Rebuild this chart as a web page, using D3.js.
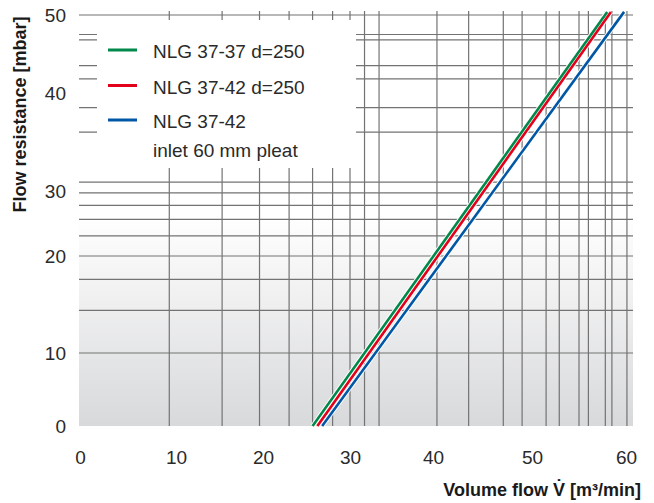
<!DOCTYPE html>
<html>
<head>
<meta charset="utf-8">
<script src="https://cdn.jsdelivr.net/npm/d3@7"></script>
<style>
  html, body { margin: 0; padding: 0; background: #fff; }
  svg { display: block; }
  text { font-family: "Liberation Sans", Arial, sans-serif; }
</style>
</head>
<body>
<svg id="chart" width="654" height="503"></svg>
<script>
// ---- data ----
const xTicks = [0, 10, 20, 30, 40, 50, 60];
const yTicks = [0, 10, 20, 30, 40, 50];
const xGrid = [9.3, 15.3, 19.6, 23.0, 25.7, 28.0, 30.0, 31.75, 33.5, 40.4, 43.6, 47.1, 49.0, 51.5, 52.9, 55.0, 56.0, 57.8, 58.5, 60.1];
const yGrid = [10, 14.4, 17.6, 20, 23.1, 25.65, 27.8, 29.7, 30.9, 36.0, 38.5, 41.8, 43.5, 46.8, 47.5, 50];
const seriesNames = ["NLG 37-37 d=250", "NLG 37-42 d=250", "NLG 37-42|inlet 60 mm pleat"];
const greenFlow = [25.7, 58.0];
const redFlow = [26.25, 58.4];
const blueFlow = [26.8, 59.8];
const resistance = [0, 50.4];
const xTitle = "Volume flow V\u0307 [m\u00B3/min]";
const yTitle = "Flow resistance [mbar]";

// ---- layout ----
const colors = ["#00894a", "#e3001b", "#0057a6"];
const svg = d3.select("#chart");
const plotLeft = 79, plotRight = 633, plotTop = 11, plotBottom = 426;

// the printed axis is not evenly spaced, so the scales are piecewise
const x = d3.scaleLinear().domain(xTicks).range([80, 176, 263, 350, 433, 532, 626]);
const y = d3.scaleLinear().domain(yTicks).range([426, 353, 256, 191, 93, 15]);

// background gradient
const defs = svg.append("defs");
const grad = defs.append("linearGradient").attr("id", "bg")
  .attr("x1", 0).attr("y1", 0).attr("x2", 0).attr("y2", 1);
grad.append("stop").attr("offset", "0%").attr("stop-color", "#ffffff");
grad.append("stop").attr("offset", "100%").attr("stop-color", "#d8d9db");
svg.append("rect").attr("x", plotLeft).attr("y", 15)
  .attr("width", plotRight - plotLeft).attr("height", 215 - 15).attr("fill", "#fff");
svg.append("rect").attr("x", plotLeft).attr("y", 215)
  .attr("width", plotRight - plotLeft).attr("height", plotBottom - 215).attr("fill", "url(#bg)");

// grid
const grid = svg.append("g").attr("stroke", "#737373").attr("stroke-width", 1.2);
grid.selectAll("line.v").data(xGrid).join("line").attr("class", "v")
  .attr("x1", d => x(d)).attr("x2", d => x(d))
  .attr("y1", plotTop).attr("y2", plotBottom);
grid.selectAll("line.h").data(yGrid).join("line").attr("class", "h")
  .attr("x1", plotLeft).attr("x2", plotRight)
  .attr("y1", d => y(d)).attr("y2", d => y(d));

// legend box (white, hides grid)
svg.append("rect").attr("x", 97).attr("y", 20).attr("width", 259).attr("height", 148).attr("fill", "#fff");

// data lines
const series = [greenFlow, redFlow, blueFlow].map((fl, i) => ({
  name: seriesNames[i], color: colors[i],
  pts: fl.map((v, j) => [v, resistance[j]])
}));
const lineGen = d3.line().x(d => x(d[0])).y(d => y(d[1]));
svg.append("g").selectAll("path").data(series).join("path")
  .attr("d", d => lineGen(d.pts)).attr("fill", "none")
  .attr("stroke", "#fff").attr("stroke-width", 4.5);
svg.append("g").selectAll("path").data(series).join("path")
  .attr("d", d => lineGen(d.pts)).attr("fill", "none")
  .attr("stroke", d => d.color).attr("stroke-width", 2.6);

// axis labels
const xAxis = d3.axisBottom(x).tickValues(xTicks).tickSize(0).tickPadding(0).tickFormat(d3.format("d"));
const gx = svg.append("g").attr("transform", "translate(0,464)").call(xAxis);
gx.select(".domain").remove();
gx.selectAll("text").attr("dy", 0).attr("y", 0)
  .attr("font-size", 19).attr("fill", "#2a2a2a").attr("font-family", "Liberation Sans, Arial, sans-serif");

const yAxis = d3.axisLeft(y).tickValues(yTicks).tickSize(0).tickPadding(0).tickFormat(d3.format("d"));
const gy = svg.append("g").attr("transform", "translate(66,0)").call(yAxis);
gy.select(".domain").remove();
gy.selectAll("text").attr("x", 0).attr("dy", "0.35em")
  .attr("font-size", 19).attr("fill", "#2a2a2a").attr("font-family", "Liberation Sans, Arial, sans-serif");

// titles
svg.append("text").attr("x", 641).attr("y", 496).attr("text-anchor", "end")
  .attr("font-size", 18).attr("font-weight", "bold").attr("fill", "#1a1a1a").text(xTitle);
svg.append("text").attr("transform", "translate(26,114.5) rotate(-90)").attr("text-anchor", "middle")
  .attr("font-size", 18).attr("font-weight", "bold").attr("fill", "#1a1a1a").text(yTitle);

// legend
const legendY = [50, 85.5, 120];
const lg = svg.append("g").selectAll("g").data(series).join("g")
  .attr("transform", (d, i) => `translate(0,${legendY[i]})`);
lg.append("line").attr("x1", 108).attr("x2", 137).attr("y1", 0).attr("y2", 0)
  .attr("stroke", d => d.color).attr("stroke-width", 3);
lg.append("text").attr("x", 153).attr("y", 8.3).attr("font-size", 19).attr("fill", "#2a2a2a")
  .each(function(d) {
    const parts = d.name.split("|");
    const t = d3.select(this);
    parts.forEach((p, k) => {
      t.append("tspan").attr("x", 153).attr("dy", k === 0 ? 0 : 29).text(p);
    });
  });
</script>
</body>
</html>
